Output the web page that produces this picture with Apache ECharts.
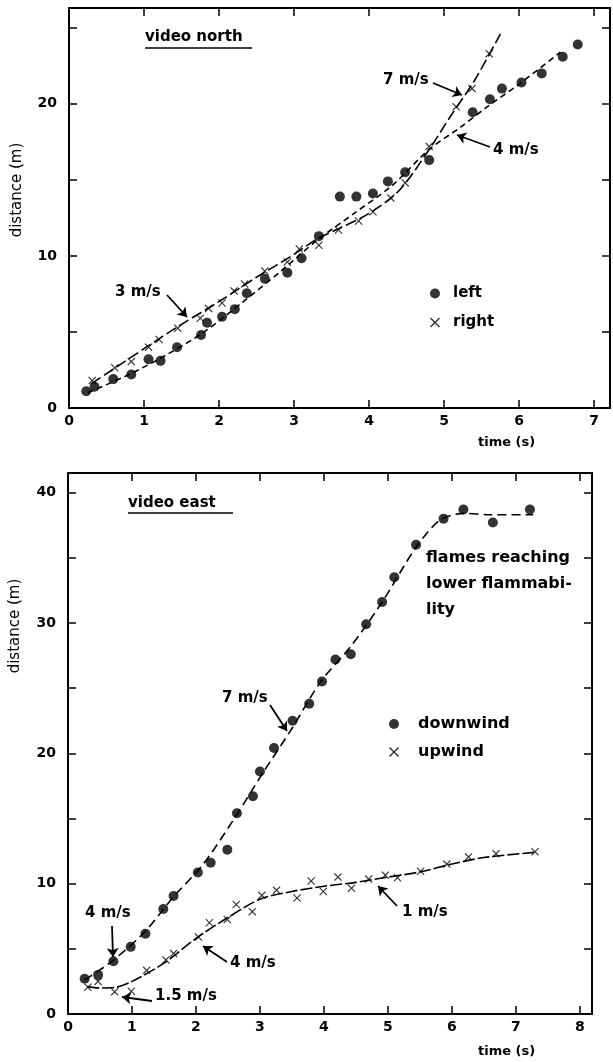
<!DOCTYPE html>
<html>
<head>
<meta charset="utf-8">
<script src="https://cdn.jsdelivr.net/npm/echarts@6/dist/echarts.min.js"></script>
<style>
  html, body { margin: 0; padding: 0; background: #fff; }
  #chart { width: 613px; height: 1062px; }
</style>
</head>
<body>
<div id="chart"></div>
<script>
// video north: [time (s), distance (m)]
var northLeft = [[0.23,1.1],[0.34,1.4],[0.59,1.9],[0.83,2.2],[1.06,3.2],[1.22,3.1],[1.44,4.0],[1.76,4.8],[1.84,5.6],[2.04,6.0],[2.21,6.5],[2.37,7.55],[2.61,8.5],[2.91,8.9],[3.1,9.85],[3.33,11.3],[3.61,13.9],[3.83,13.9],[4.05,14.1],[4.25,14.9],[4.48,15.5],[4.8,16.3],[5.38,19.45],[5.61,20.3],[5.77,21.0],[6.03,21.4],[6.3,22.0],[6.58,23.1],[6.78,23.9]];
var northRight = [[0.31,1.8],[0.61,2.65],[0.83,3.05],[1.06,4.0],[1.2,4.5],[1.45,5.25],[1.75,5.9],[1.86,6.55],[2.04,6.9],[2.2,7.7],[2.34,8.15],[2.61,9.0],[2.91,9.6],[3.07,10.45],[3.33,10.7],[3.59,11.7],[3.86,12.3],[4.05,12.9],[4.29,13.8],[4.48,14.8],[4.8,17.2],[5.16,19.8],[5.37,21.0],[5.6,23.3]];
var northLeftFit = [[0.25,1.0],[0.8,2.2],[1.3,3.5],[1.8,5.0],[2.3,6.9],[2.8,8.9],[3.3,11.0],[3.8,12.8],[4.3,14.6],[4.8,17.0],[5.2,18.4],[5.6,19.9],[6.0,21.3],[6.55,23.4]];
var northRightFit = [[0.3,1.6],[1.0,3.9],[1.5,5.5],[2.0,7.0],[2.5,8.6],[3.0,10.1],[3.3,11.1],[3.6,11.8],[4.0,12.8],[4.4,14.3],[4.8,17.0],[5.1,19.3],[5.4,21.5],[5.75,24.6]];

// video east
var eastDown = [[0.26,2.7],[0.47,3.0],[0.71,4.05],[0.98,5.15],[1.21,6.15],[1.49,8.05],[1.65,9.05],[2.03,10.85],[2.23,11.6],[2.49,12.6],[2.64,15.4],[2.89,16.7],[3.0,18.6],[3.22,20.4],[3.51,22.5],[3.77,23.8],[3.97,25.5],[4.18,27.2],[4.42,27.6],[4.66,29.9],[4.91,31.6],[5.1,33.5],[5.44,36.0],[5.87,38.0],[6.18,38.7],[6.64,37.7],[7.22,38.7]];
var eastUp = [[0.31,2.05],[0.47,2.5],[0.73,1.7],[0.99,1.75],[1.23,3.35],[1.53,4.15],[1.65,4.65],[2.04,5.9],[2.21,7.0],[2.49,7.25],[2.63,8.4],[2.88,7.85],[3.03,9.1],[3.26,9.5],[3.58,8.9],[3.8,10.2],[3.99,9.4],[4.22,10.5],[4.43,9.65],[4.7,10.35],[4.96,10.65],[5.15,10.45],[5.51,10.95],[5.92,11.5],[6.26,12.05],[6.69,12.3],[7.3,12.45]];
var eastDownFit = [[0.26,2.6],[0.7,4.1],[1.2,6.3],[1.65,9.0],[2.1,11.4],[2.6,15.0],[3.06,18.6],[3.5,21.9],[3.95,25.5],[4.42,28.2],[4.91,31.6],[5.44,35.8],[5.82,37.9],[6.2,38.4],[6.6,38.3],[7.27,38.3]];
var eastUpFit = [[0.3,2.1],[0.5,2.0],[0.75,2.05],[1.0,2.5],[1.5,3.9],[2.0,5.8],[2.5,7.4],[3.0,8.8],[3.5,9.4],[4.0,9.8],[4.5,10.1],[5.0,10.5],[5.5,10.9],[6.0,11.5],[6.5,12.0],[7.3,12.4]];

var FONT = 'DejaVu Sans';
var CROSS = 'path://M0,1L1,0L5,4L9,0L10,1L6,5L10,9L9,10L5,6L1,10L0,9L4,5Z';

function xAx(grid, max, pos) {
  return {
    type: 'value', gridIndex: grid, min: 0, max: max, interval: 1, position: pos,
    axisLine: { show: true, onZero: false, lineStyle: { color: '#000', width: 2 } },
    axisTick: { show: true, inside: true, length: 8, lineStyle: { color: '#000', width: 1.5 } },
    axisLabel: {
      show: pos === 'bottom', margin: 6,
      color: '#000', fontFamily: FONT, fontSize: 14, fontWeight: 'bold',
      formatter: function (v) { return Number.isInteger(v) ? v : ''; }
    },
    splitLine: { show: false }
  };
}
function yAx(grid, max, pos) {
  return {
    type: 'value', gridIndex: grid, min: 0, max: max, interval: 5, position: pos,
    axisLine: { show: true, onZero: false, lineStyle: { color: '#000', width: 2 } },
    axisTick: { show: true, inside: true, length: 8, lineStyle: { color: '#000', width: 1.5 } },
    axisLabel: {
      show: pos === 'left', margin: 12,
      color: '#000', fontFamily: FONT, fontSize: 14, fontWeight: 'bold',
      formatter: function (v) { return v % 10 === 0 ? v : ''; }
    },
    splitLine: { show: false }
  };
}
function dots(name, data, xi, yi) {
  return { name: name, type: 'scatter', xAxisIndex: xi, yAxisIndex: yi, data: data,
    symbol: 'circle', symbolSize: 10, itemStyle: { color: '#000' }, z: 5 };
}
function crosses(name, data, xi, yi) {
  return { name: name, type: 'scatter', xAxisIndex: xi, yAxisIndex: yi, data: data,
    symbol: CROSS, symbolSize: 8, itemStyle: { color: '#000' }, z: 5 };
}
function fit(data, xi, yi, dash, arrows) {
  var s = { type: 'line', xAxisIndex: xi, yAxisIndex: yi, data: data, smooth: 0.3,
    symbol: 'none', silent: true,
    lineStyle: { color: '#000', width: 1.6, type: dash } };
  if (arrows) {
    s.markLine = { silent: true, symbol: ['none', 'arrow'], symbolSize: 9,
      label: { show: false },
      lineStyle: { color: '#000', width: 1.8, type: 'solid' },
      data: arrows.map(function (a) { return [{ x: a[0], y: a[1] }, { x: a[2], y: a[3] }]; }) };
  }
  return s;
}
function txt(x, y, s, size, extra) {
  var st = { text: s, x: 0, y: 0, fill: '#000', font: 'bold ' + (size || 15) + 'px "' + FONT + '"',
    textAlign: 'left', textVerticalAlign: 'middle' };
  if (extra) for (var k in extra) st[k] = extra[k];
  return { type: 'text', x: x, y: y, style: st, z: 10 };
}
function uline(x1, x2, y) {
  return { type: 'line', shape: { x1: x1, y1: y, x2: x2, y2: y }, style: { stroke: '#000', lineWidth: 1.5 }, z: 10 };
}
function vtitle(x, y, s) {
  return { type: 'text', x: x, y: y, rotation: Math.PI / 2,
    style: { text: s, fill: '#000', font: '15px "' + FONT + '"', textAlign: 'center', textVerticalAlign: 'middle' }, z: 10 };
}

var chart = echarts.init(document.getElementById('chart'));
var option = {
  backgroundColor: '#fff',
  animation: false,
  grid: [
    { left: 69, top: 8, width: 545, height: 400 },
    { left: 68, top: 473, width: 524, height: 541 }
  ],
  xAxis: [xAx(0, 7.21, 'bottom'), xAx(0, 7.21, 'top'), xAx(1, 8.19, 'bottom'), xAx(1, 8.19, 'top')],
  yAxis: [yAx(0, 26.3, 'left'), yAx(0, 26.3, 'right'), yAx(1, 41.5, 'left'), yAx(1, 41.5, 'right')],
  legend: [
    { data: ['left', 'right'], orient: 'vertical', left: 425, top: 281, itemWidth: 10, itemHeight: 10, itemGap: 14,
      textStyle: { color: '#000', fontFamily: FONT, fontSize: 15, fontWeight: 'bold', padding: [0, 0, 0, 8] } },
    { data: ['downwind', 'upwind'], orient: 'vertical', left: 384, top: 711, itemWidth: 10, itemHeight: 10, itemGap: 12,
      textStyle: { color: '#000', fontFamily: FONT, fontSize: 16, fontWeight: 'bold', padding: [0, 0, 0, 14] } }
  ],
  series: [
    fit(northLeftFit, 0, 0, [6, 4], [[167, 295, 187, 317], [433, 83, 462, 95], [490, 147, 457, 135]]),
    fit(northRightFit, 0, 0, [11, 4]),
    dots('left', northLeft, 0, 0),
    crosses('right', northRight, 0, 0),
    fit(eastDownFit, 2, 2, [9, 5], [[270, 705, 287, 731], [112, 926, 113, 957], [227, 962, 203, 946], [152, 1001, 122, 997], [397, 906, 378, 886]]),
    fit(eastUpFit, 2, 2, [12, 3]),
    dots('downwind', eastDown, 2, 2),
    crosses('upwind', eastUp, 2, 2)
  ],
  graphic: [
    txt(145, 37, 'video north', 15), uline(145, 252, 48),
    txt(115, 292, '3 m/s'), txt(383, 80, '7 m/s'), txt(493, 150, '4 m/s'),
    vtitle(17, 190, 'distance (m)'),
    txt(478, 443, 'time (s)', 13),
    txt(128, 503, 'video east', 15), uline(128, 233, 513),
    txt(426, 545, 'flames reaching\nlower flammabi-\nlity', 16, { textVerticalAlign: 'top', lineHeight: 26 }),
    txt(222, 698, '7 m/s'), txt(85, 913, '4 m/s'), txt(230, 963, '4 m/s'),
    txt(155, 996, '1.5 m/s'), txt(402, 912, '1 m/s'),
    vtitle(15, 626, 'distance (m)'),
    txt(478, 1052, 'time (s)', 13)
  ]
};
chart.setOption(option);
</script>
</body>
</html>
